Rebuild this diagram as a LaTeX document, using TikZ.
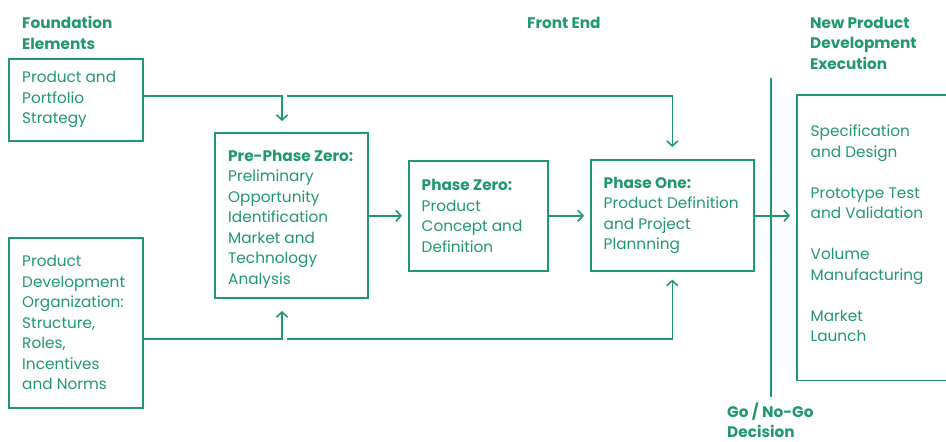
\documentclass[tikz,border=0pt]{standalone}
\usepackage{fontspec}
\setmainfont{Poppins}
\usetikzlibrary{arrows.meta,calc}
\definecolor{pdgreen}{RGB}{32,152,108}
\tikzset{
  box/.style={draw=pdgreen, line width=1.6pt, anchor=north west, inner sep=0pt},
  txt/.style={text=pdgreen, align=left, anchor=west, inner sep=0pt,
    font=\fontsize{15.3}{20.5}\selectfont},
  head/.style={text=pdgreen, align=left, anchor=north west, inner sep=0pt,
    font=\fontsize{15.3}{20.5}\selectfont\bfseries},
  link/.style={draw=pdgreen, line width=1.6pt},
  arr/.style={link, -{Straight Barb[length=5pt,width=11pt,line width=1.6pt]}},
}
\begin{document}
\begin{tikzpicture}[x=1pt,y=-1pt]
\useasboundingbox (0,0) rectangle (946,442);
\clip (0,0) rectangle (946,442);

% column headings
\node[head] (hfound) at (22,16.5) {Foundation\\Elements};
\node[head] (hfront) at (527,16.5) {Front End};
\node[head] (hexec) at (810,16.5) {New Product\\Development\\Execution};
\node[head] (hgo) at (727,402.5) {Go / No-Go\\Decision};

% boxes
\node[box, minimum width=134pt, minimum height=82pt] (pps) at (8,58) {};
\node[box, minimum width=134pt, minimum height=170pt] (pdo) at (8,237) {};
\node[box, minimum width=153pt, minimum height=165pt] (pre) at (214,132) {};
\node[box, minimum width=139pt, minimum height=110pt] (pz) at (408,160) {};
\node[box, minimum width=163pt, minimum height=111pt] (p1) at (590,159) {};
% execution box runs on past the right edge, so only three sides show
\node[anchor=north west, inner sep=0pt, minimum width=220pt, minimum height=285pt] (exe) at (797,95) {};
\draw[link] (exe.north east) -- (exe.north west) -- (exe.south west) -- (exe.south east);

% box texts
\node[txt] (tpps) at ([xshift=14pt]pps.west) {Product and\\Portfolio\\Strategy};
\node[txt] (tpdo) at ([xshift=14pt]pdo.west) {Product\\Development\\Organization:\\Structure,\\Roles,\\Incentives\\and Norms};
\node[txt] (tpre) at ([xshift=14pt,yshift=-4pt]pre.west) {\textbf{Pre-Phase Zero:}\\Preliminary\\Opportunity\\Identification\\Market and\\Technology\\Analysis};
\node[txt] (tpz) at ([xshift=13.5pt]pz.west) {\textbf{Phase Zero:}\\Product\\Concept and\\Definition};
\node[txt] (tp1) at ([xshift=13.5pt]p1.west) {\textbf{Phase One:}\\Product Definition\\and Project\\Plannning};
\node[txt] (texe) at ([xshift=13.5pt,yshift=4pt]exe.west) {Specification\\and Design\\[20.5pt]Prototype Test\\and Validation\\[20.5pt]Volume\\Manufacturing\\[20.5pt]Market\\Launch};

% go / no-go gate
\coordinate (gtop) at (771,78);
\coordinate (gbot) at (771,397);
\draw[link] (gtop) -- (gbot);

% feeds from the foundation elements
\coordinate (prein) at (282,132);
\coordinate (preout) at (282,297);
\coordinate (topfork) at (287,96);
\coordinate (botfork) at (287,339);
\draw[arr, shorten >=11pt] (pps.east |- topfork) -| (prein);
\draw[arr, shorten >=12pt] (topfork) -| (p1.north);
\draw[arr, shorten >=14pt] (pdo.east |- botfork) -| (preout);
\draw[arr, shorten >=8pt] (botfork) -| (p1.south);

% main flow
\draw[arr, shorten >=6pt] (pre.east |- pz.west) -- (pz.west);
\draw[arr, shorten >=6pt] (pz.east) -- (pz.east -| p1.west);
\draw[arr, shorten >=7pt] (p1.east |- pz.east) -- (pz.east -| exe.west);
\end{tikzpicture}
\end{document}
